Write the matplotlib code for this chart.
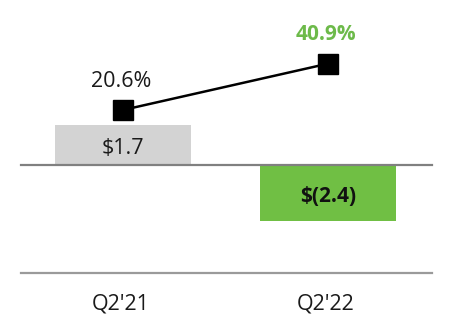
import matplotlib.pyplot as plt

quarters = ["Q2'21", "Q2'22"]
values = [1.7, -2.4]
value_labels = ["$1.7", "$(2.4)"]
margins = [20.6, 40.9]
margin_labels = ["20.6%", "40.9%"]

plt.rcParams['font.family'] = ['Open Sans', 'DejaVu Sans']

fig = plt.figure(figsize=(4.52, 3.32), dpi=100)
ax = fig.add_axes([0, 0, 1, 1])
ax.set_xlim(-0.6, 1.605)
ax.set_ylim(-7.17, 7.08)
ax.axis('off')

x = list(range(len(quarters)))
bar_colors = ["#d3d3d3", "#70bf44"]
ax.bar(x, values, width=0.663, color=bar_colors, zorder=2)

ax.axhline(0, xmin=0.046, xmax=0.956, color="#808080", lw=1.6, zorder=3)
ax.axhline(-4.64, xmin=0.046, xmax=0.956, color="#9a9a9a", lw=1.6, zorder=3)

ax.text(x[0], values[0] * 0.42, value_labels[0], ha='center', va='center',
        fontsize=15.5, color="#1a1a1a", zorder=4)
ax.text(x[1], values[1] * 0.56, value_labels[1], ha='center', va='center',
        fontsize=15, fontweight='bold', color="#111111", zorder=4)

for xi, q in zip(x, quarters):
    ax.text(xi - 0.01, -5.95, q, ha='center', va='center', fontsize=15.5, color="#1a1a1a")

ax2 = ax.twinx()
ax2.set_position([0, 0, 1, 1])
ax2.set_ylim(-76.7, 68.8)
ax2.axis('off')
ax2.plot(x, margins, color="black", lw=1.8, marker='s', markersize=14, zorder=5)
ax2.text(x[0] - 0.01, margins[0] + 12.7, margin_labels[0], ha='center', va='center',
         fontsize=15.5, color="#1a1a1a")
ax2.text(x[1] - 0.01, margins[1] + 12.7, margin_labels[1], ha='center', va='center',
         fontsize=15, fontweight='bold', color="#6dba4a")

fig.savefig("out.png", dpi=100)
